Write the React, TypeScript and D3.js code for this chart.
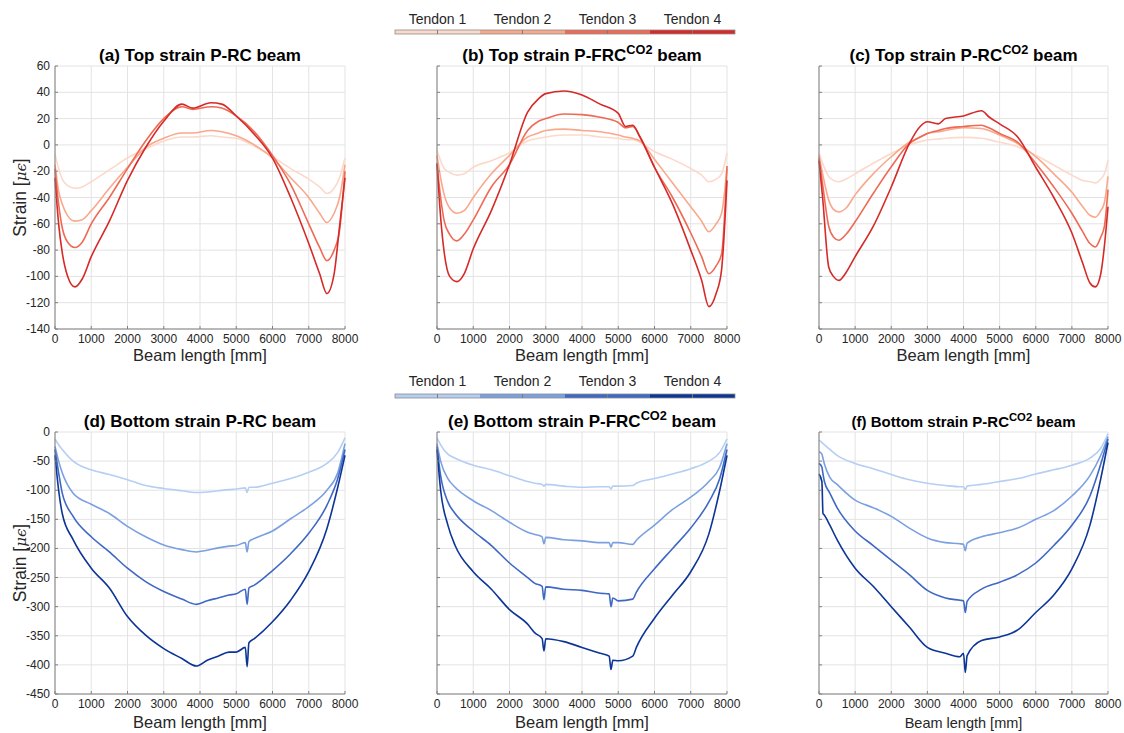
import React from "react";
import * as d3 from "d3";

// ---------- DATA ----------
const tendonLabels = ["Tendon 1", "Tendon 2", "Tendon 3", "Tendon 4"];
const redColors = ["#fcd9cb", "#f9a88c", "#ee6a55", "#d52a27"];
const blueColors = ["#b5cef4", "#7ba0e1", "#3f68c5", "#0b3596"];

const xTicks = [0, 1000, 2000, 3000, 4000, 5000, 6000, 7000, 8000];
const topYTicks = [-140, -120, -100, -80, -60, -40, -20, 0, 20, 40, 60];
const botYTicks = [-450, -400, -350, -300, -250, -200, -150, -100, -50, 0];

// Panel (a)
const xA = [0, 100, 200, 350, 550, 750, 1000, 1500, 2000, 2500, 3000, 3500, 3800, 4300, 4600, 5000, 5500, 6000, 6500, 7000, 7300, 7500, 7700, 7850, 8000];
const aT1 = [-7, -18, -26, -31, -33, -32, -28, -19, -10, -3, 3, 6, 6, 7, 6, 5, -1, -9, -18, -26, -32, -37, -33, -25, -10];
const aT2 = [-15, -35, -45, -54, -58, -57, -50, -33, -17, -2, 5, 9, 9, 11, 10, 7, 0, -10, -25, -40, -52, -59, -52, -40, -15];
const aT3 = [-18, -45, -63, -74, -78, -74, -60, -40, -18, 3, 20, 29, 27, 29, 28, 22, 10, -8, -30, -60, -78, -88, -80, -65, -20];
const aT4 = [-25, -60, -82, -100, -108, -102, -85, -58, -27, -2, 18, 31, 28, 32, 31, 22, 8, -10, -40, -75, -98, -113, -98, -62, -25];

// Panel (b)
const xB = [0, 100, 200, 350, 550, 750, 1000, 1500, 2000, 2500, 2800, 3000, 3500, 4000, 4500, 5000, 5200, 5400, 5600, 6000, 6500, 7000, 7300, 7500, 7700, 7850, 8000];
const bT1 = [-4, -12, -18, -21, -23, -22, -17, -12, -6, 3, 5, 6, 7.5, 7.5, 6, 5, 4, 4, 2, -5, -11, -18, -23, -28, -26, -22, -6];
const bT2 = [-8, -25, -38, -48, -52, -50, -40, -22, -8, 6, 9, 11, 12, 11, 10, 7.5, 6, 5, 3, -11, -29, -47, -58, -66, -60, -52, -18];
const bT3 = [-15, -40, -58, -68, -73, -68, -57, -32, -15, 11, 18, 20, 23.5, 23, 21, 17, 13, 14, 6, -17, -40, -67, -85, -98, -92, -83, -16];
const bT4 = [-14, -55, -82, -100, -104, -98, -79, -50, -15, 25, 35, 39, 41, 38, 31, 24, 14, 15, 6, -17, -45, -80, -103, -123, -113, -95, -27];

// Panel (c)
const xC = [0, 100, 270, 400, 550, 750, 1000, 1500, 2000, 2500, 2800, 3000, 3300, 3500, 4000, 4500, 4700, 5000, 5500, 6000, 6500, 7000, 7300, 7500, 7650, 7800, 7900, 8000];
const cT1 = [-6, -14, -24, -27, -28, -26, -22, -14, -6.5, 0, 2.5, 3.7, 4.5, 5, 5.7, 5, 4, 2, -1.4, -7.8, -15.4, -23, -27, -28, -29, -26, -22, -11.6];
const cT2 = [-8, -22, -42, -49, -51, -48, -38, -22, -9, 2, 6, 8.7, 10, 11, 13, 12.5, 11, 7.5, 1, -9, -22, -36, -47, -53.5, -55, -50, -44, -24];
const cT3 = [-10, -30, -62, -70, -72.5, -68, -58.5, -37, -16.6, 1, 6, 8.7, 11, 12.5, 14, 15, 13, 8.7, 2, -14, -32, -52, -66, -75, -77.6, -70, -62, -34];
const cT4 = [-12, -40, -93, -100, -103, -97, -85, -62, -32, 1, 14, 17.6, 16, 20, 22, 26, 21.4, 16, 6, -17, -40, -67, -90, -105, -108, -98, -77, -47];

// Panel (d)
const xD = [0, 100, 200, 500, 1000, 1500, 2000, 2500, 3000, 3500, 3900, 4200, 4500, 4800, 5000, 5250, 5300, 5350, 5500, 6000, 6500, 7000, 7500, 7800, 8000];
const dT1 = [-12, -22, -30, -50, -65, -73, -82, -92, -97, -101, -104, -103, -101, -99, -98, -96, -104, -95, -95, -88, -80, -69, -54, -35, -10];
const dT2 = [-25, -50, -70, -105, -124, -140, -162, -180, -194, -202, -206, -203, -199, -196, -195, -190, -206, -188, -183, -170, -149, -128, -100, -70, -20];
const dT3 = [-30, -70, -105, -145, -180, -206, -234, -257, -274, -287, -296, -290, -285, -280, -278, -270, -296, -268, -263, -238, -209, -174, -126, -80, -30];
const dT4 = [-40, -100, -140, -185, -234, -268, -317, -349, -372, -389, -402, -392, -385, -378, -378, -370, -403, -362, -355, -326, -289, -240, -166, -95, -40];

// Panel (e)
const xE = [0, 100, 300, 500, 1000, 1500, 2000, 2500, 2700, 2900, 2950, 3000, 3500, 4000, 4500, 4750, 4800, 4850, 5000, 5400, 5500, 6000, 6500, 7000, 7500, 7800, 8000];
const eT1 = [-10, -22, -38, -45, -57, -65, -75, -85, -88, -90, -93, -90, -93, -95, -94, -94, -98, -93, -93, -92, -88, -80, -72, -63, -50, -35, -12];
const eT2 = [-20, -50, -80, -95, -118, -135, -155, -172, -176, -180, -192, -181, -185, -187, -190, -190, -198, -190, -190, -193, -186, -160, -133, -112, -85, -60, -20];
const eT3 = [-25, -75, -120, -140, -170, -195, -225, -250, -260, -265, -288, -266, -270, -272, -277, -278, -300, -285, -290, -287, -275, -235, -200, -165, -120, -80, -30];
const eT4 = [-30, -100, -160, -195, -240, -270, -305, -330, -345, -355, -376, -355, -360, -370, -380, -385, -408, -392, -393, -385, -370, -320, -280, -240, -175, -100, -40];

// Panel (f)
const xF = [0, 80, 110, 150, 300, 500, 1000, 1500, 2000, 2500, 3000, 3500, 3900, 4000, 4050, 4100, 4500, 5000, 5500, 6000, 6500, 7000, 7500, 7800, 8000];
const fT1 = [-14, -18, -20, -22, -30, -40, -54, -63, -73, -82, -88, -92, -94, -94, -99, -93, -90, -85, -80, -72, -65, -57, -45, -28, -3];
const fT2 = [-34, -38, -45, -55, -78, -90, -117, -130, -145, -165, -182, -190, -192, -193, -204, -191, -180, -173, -165, -150, -135, -110, -75, -40, -8];
const fT3 = [-54, -60, -72, -85, -105, -130, -170, -195, -220, -245, -272, -285, -289, -290, -310, -291, -270, -258, -245, -225, -195, -160, -110, -55, -12];
const fT4 = [-72, -85, -140, -143, -160, -185, -234, -265, -300, -335, -370, -380, -386, -380, -413, -384, -358, -352, -340, -310, -280, -235, -160, -80, -18];

// ---------- LAYOUT ----------
const FONT = "'Liberation Sans', Arial, Helvetica, sans-serif";
const colX = [[55, 345], [437, 727], [819, 1108]];
const topRow = { y0: 66, y1: 329, domain: [-140, 60], ticks: topYTicks, titleY: 61, xlabY: 361 };
const botRow = { y0: 432, y1: 694, domain: [-450, 0], ticks: botYTicks, titleY: 427, xlabY: 728 };

type Panel = {
  col: number;
  row: typeof topRow;
  pre: string;
  sup?: string;
  post?: string;
  xs: number[];
  series: number[][];
  colors: string[];
  showY: boolean;
  titleSize: number;
  xlabSize: number;
};

const panels: Panel[] = [
  { col: 0, row: topRow, pre: "(a) Top strain P-RC beam", xs: xA, series: [aT1, aT2, aT3, aT4], colors: redColors, showY: true, titleSize: 17, xlabSize: 16.5 },
  { col: 1, row: topRow, pre: "(b) Top strain P-FRC", sup: "CO2", post: " beam", xs: xB, series: [bT1, bT2, bT3, bT4], colors: redColors, showY: false, titleSize: 17, xlabSize: 16.5 },
  { col: 2, row: topRow, pre: "(c) Top strain P-RC", sup: "CO2", post: " beam", xs: xC, series: [cT1, cT2, cT3, cT4], colors: redColors, showY: false, titleSize: 17, xlabSize: 16.5 },
  { col: 0, row: botRow, pre: "(d) Bottom strain P-RC beam", xs: xD, series: [dT1, dT2, dT3, dT4], colors: blueColors, showY: true, titleSize: 17, xlabSize: 16.5 },
  { col: 1, row: botRow, pre: "(e) Bottom strain P-FRC", sup: "CO2", post: " beam", xs: xE, series: [eT1, eT2, eT3, eT4], colors: blueColors, showY: false, titleSize: 17, xlabSize: 16.5 },
  { col: 2, row: botRow, pre: "(f) Bottom strain P-RC", sup: "CO2", post: " beam", xs: xF, series: [fT1, fT2, fT3, fT4], colors: blueColors, showY: false, titleSize: 15, xlabSize: 14.5 },
];

function PanelView({ p }: { p: Panel }) {
  const [xl, xr] = colX[p.col];
  const { y0, y1 } = p.row;
  const x = d3.scaleLinear().domain([0, 8000]).range([xl, xr]);
  const y = d3.scaleLinear().domain(p.row.domain).range([y1, y0]);
  const cx = (xl + xr) / 2;
  const supShift = Math.round(p.titleSize * 0.4);
  return (
    <g>
      {xTicks.map((t) => (
        <line key={"gx" + t} x1={x(t)} x2={x(t)} y1={y0} y2={y1} stroke="#e3e3e3" strokeWidth={1} />
      ))}
      {p.row.ticks.map((t) => (
        <line key={"gy" + t} x1={xl} x2={xr} y1={y(t)} y2={y(t)} stroke="#e3e3e3" strokeWidth={1} />
      ))}
      {p.series.map((s, i) => {
        const gen = d3
          .line<number>()
          .x((_, j) => x(p.xs[j]))
          .y((v) => y(v))
          .curve(d3.curveMonotoneX);
        return <path key={"s" + i} d={gen(s) || ""} fill="none" stroke={p.colors[i]} strokeWidth={1.6} strokeLinejoin="round" />;
      })}
      <line x1={xl} x2={xr} y1={y1} y2={y1} stroke="#808080" strokeWidth={1} />
      <line x1={xl} x2={xl} y1={y0} y2={y1} stroke="#808080" strokeWidth={1} />
      {xTicks.map((t) => (
        <g key={"tx" + t}>
          <line x1={x(t)} x2={x(t)} y1={y1} y2={y1 - 3} stroke="#808080" />
          <text x={x(t)} y={y1 + 14} textAnchor="middle" fontSize={12} fill="#262626" fontFamily={FONT}>
            {t}
          </text>
        </g>
      ))}
      {p.row.ticks.map((t) => (
        <g key={"ty" + t}>
          <line x1={xl} x2={xl + 3} y1={y(t)} y2={y(t)} stroke="#808080" />
          {p.showY && (
            <text x={xl - 5} y={y(t) + 4} textAnchor="end" fontSize={12} fill="#262626" fontFamily={FONT}>
              {t}
            </text>
          )}
        </g>
      ))}
      <text x={cx} y={p.row.titleY} textAnchor="middle" fontSize={p.titleSize} fontWeight="bold" fill="#000" fontFamily={FONT}>
        {p.pre}
        {p.sup && (
          <tspan dy={-supShift} fontSize={p.titleSize * 0.75}>
            {p.sup}
          </tspan>
        )}
        {p.post && <tspan dy={p.sup ? supShift : 0}>{p.post}</tspan>}
      </text>
      <text x={cx} y={p.row.xlabY} textAnchor="middle" fontSize={p.xlabSize} fill="#262626" fontFamily={FONT}>
        Beam length [mm]
      </text>
      {p.showY && (
        <text
          transform={`translate(26,${(y0 + y1) / 2}) rotate(-90)`}
          textAnchor="middle"
          fontSize={17.5}
          fill="#262626"
          fontFamily={FONT}
        >
          Strain [<tspan fontStyle="italic" fontFamily="'DejaVu Serif', serif" fontSize={15}>μϵ</tspan>]
        </text>
      )}
    </g>
  );
}

function Legend({ colors, barY, labelY }: { colors: string[]; barY: number; labelY: number }) {
  const lx = d3.scaleBand<string>().domain(tendonLabels).range([395, 735]);
  const w = lx.bandwidth();
  return (
    <g>
      {tendonLabels.map((t, i) => (
        <g key={t}>
          <rect x={lx(t)} y={barY} width={w} height={4} fill={colors[i]} />
          <text x={(lx(t) || 0) + w / 2} y={labelY} textAnchor="middle" fontSize={14} fill="#262626" fontFamily={FONT}>
            {t}
          </text>
          <line x1={(lx(t) || 0) + w / 2} x2={(lx(t) || 0) + w / 2} y1={barY} y2={barY + 4} stroke="#7a7a7a" strokeWidth={1} />
        </g>
      ))}
      <rect x={395} y={barY} width={340} height={4} fill="none" stroke="#8c8c8c" strokeWidth={0.8} />
    </g>
  );
}

export default function App() {
  return (
    <svg width={1124} height={733} style={{ position: "absolute", left: 0, top: 0, background: "#fff" }}>
      <rect width={1124} height={733} fill="#fff" />
      <Legend colors={redColors} barY={30} labelY={24} />
      <Legend colors={blueColors} barY={394} labelY={386} />
      {panels.map((p, i) => (
        <PanelView key={i} p={p} />
      ))}
    </svg>
  );
}
